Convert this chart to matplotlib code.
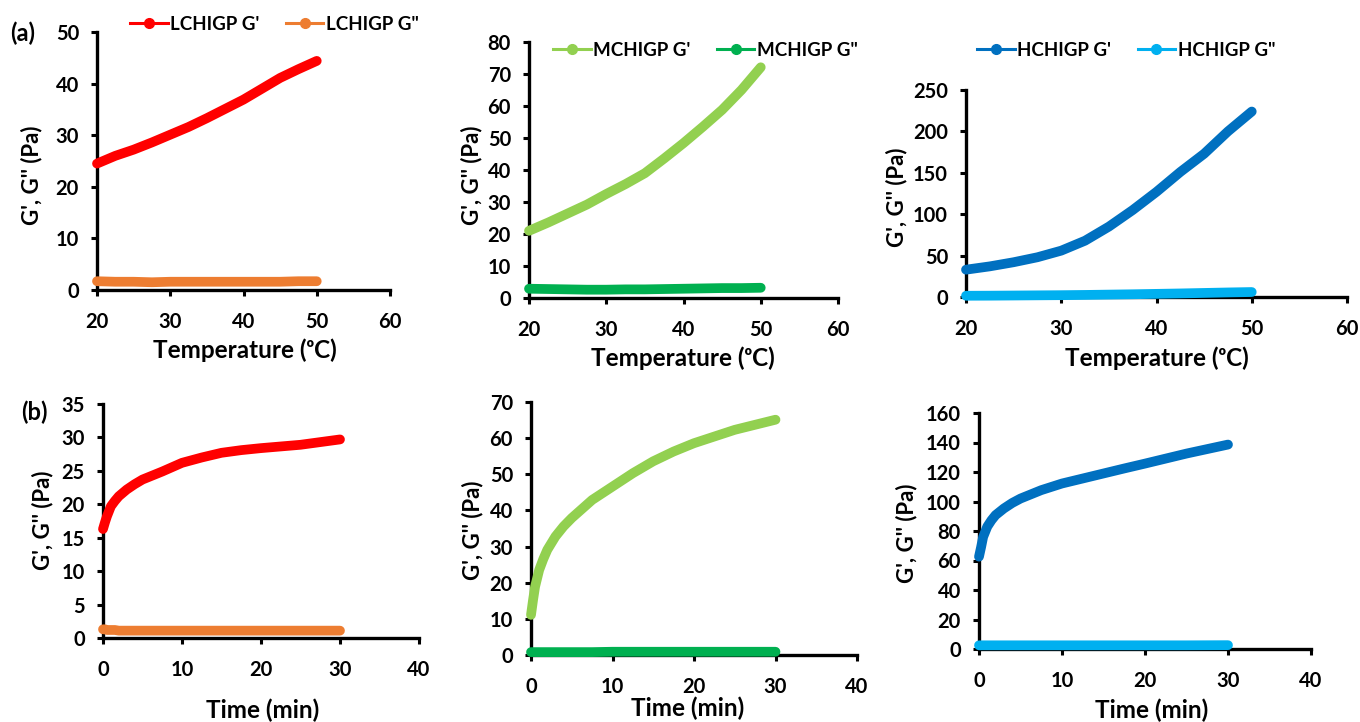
import numpy as np
import matplotlib.pyplot as plt
from matplotlib.lines import Line2D

plt.rcParams['font.family'] = ['Lato', 'DejaVu Sans']
plt.rcParams['font.weight'] = 'bold'

W, H = 1360, 722

# (a) temperature sweep
temp = [20, 22.5, 25, 27.5, 30, 32.5, 35, 37.5, 40, 42.5, 45, 47.5, 50]
lc_temp_g1 = [24.5, 26.0, 27.2, 28.6, 30.1, 31.6, 33.3, 35.1, 36.9, 39.0, 41.1, 42.8, 44.4]
lc_temp_g2 = [1.7, 1.6, 1.6, 1.5, 1.6, 1.6, 1.6, 1.6, 1.6, 1.6, 1.6, 1.7, 1.7]
mc_temp_g1 = [21.0, 23.6, 26.4, 29.2, 32.5, 35.6, 39.0, 43.6, 48.4, 53.5, 58.8, 65.0, 72.1]
mc_temp_g2 = [2.9, 2.8, 2.7, 2.6, 2.6, 2.7, 2.7, 2.8, 2.9, 3.0, 3.1, 3.1, 3.2]
hc_temp_g1 = [33, 37, 42, 48, 56, 68, 85, 105, 127, 151, 173, 200, 224]
hc_temp_g2 = [1.5, 1.6, 1.8, 2.0, 2.2, 2.5, 2.9, 3.3, 3.8, 4.3, 4.9, 5.5, 6.0]

# (b) time sweep
time_min = [0, 0.25, 0.5, 1, 1.5, 2, 3, 4, 5, 7.5, 10, 12.5, 15, 17.5, 20, 25, 30]
lc_time_g1 = [16.3, 17.3, 18.2, 19.7, 20.5, 21.2, 22.2, 23.0, 23.7, 24.9, 26.2, 27.0, 27.7, 28.1, 28.4, 28.9, 29.7]
lc_time_g2 = [1.3, 1.3, 1.2, 1.2, 1.2, 1.1, 1.1, 1.1, 1.1, 1.1, 1.1, 1.1, 1.1, 1.1, 1.1, 1.1, 1.1]
mc_time_g1 = [11.1, 15.2, 18.9, 23.5, 26.5, 29.1, 32.8, 35.6, 37.9, 42.9, 46.6, 50.3, 53.6, 56.3, 58.6, 62.3, 65.1]
mc_time_g2 = [0.8, 0.8, 0.8, 0.8, 0.8, 0.8, 0.8, 0.8, 0.8, 0.8, 0.9, 0.9, 0.9, 0.9, 0.9, 0.9, 0.9]
hc_time_g1 = [62.6, 69.0, 76.0, 83.0, 87.3, 90.8, 95.3, 99.0, 102.0, 107.7, 112.2, 115.6, 119.0, 122.4, 125.7, 132.5, 138.6]
hc_time_g2 = [2.5, 2.5, 2.5, 2.5, 2.5, 2.5, 2.5, 2.5, 2.5, 2.5, 2.5, 2.5, 2.5, 2.5, 2.5, 2.5, 2.6]

colors = {
    'LC': ('#ff0000', '#ed7d31'),
    'MC': ('#92d050', '#00b050'),
    'HC': ('#0070c0', '#00b0f0'),
}

fig = plt.figure(figsize=(W / 100, H / 100), dpi=100)


def px_axes(l, r, t, b):
    ax = fig.add_axes([l / W, 1 - b / H, (r - l) / W, (b - t) / H])
    ax._px = (l, r, t, b)
    return ax


def style(ax, xlim, xticks, ylim, yticks, xlabel, xl_pos, yl_pos):
    l, r, t, b = ax._px
    ax.set_xlim(*xlim)
    ax.set_ylim(*ylim)
    ax.set_xticks(xticks)
    ax.set_yticks(yticks)
    for s in ['top', 'right']:
        ax.spines[s].set_visible(False)
    for s in ['left', 'bottom']:
        ax.spines[s].set_linewidth(2.4)
        ax.spines[s].set_capstyle('projecting')
    ax.tick_params(direction='out', length=4, width=2.2, labelsize=14.5)
    ax.tick_params(axis='y', pad=9)
    ax.tick_params(axis='x', pad=12)
    for lab in ax.get_xticklabels() + ax.get_yticklabels():
        lab.set_fontweight('bold')
    ax.set_xlabel(xlabel, fontsize=17.5, fontweight='bold')
    ax.xaxis.set_label_coords((xl_pos[0] - l) / (r - l), (b - xl_pos[1]) / (b - t))
    ax.xaxis.label.set_va('center')
    ax.set_ylabel("G', G'' (Pa)", fontsize=16, fontweight='bold')
    ax.yaxis.set_label_coords((yl_pos[0] - l) / (r - l), (b - yl_pos[1]) / (b - t))
    ax.yaxis.label.set_va('center')


def draw(ax, x, g1, g2, key):
    c1, c2 = colors[key]
    for g, c in [(g2, c2), (g1, c1)]:
        ax.plot(x, g, color=c, lw=7, solid_capstyle='round', solid_joinstyle='round',
                clip_on=False, zorder=3)


def legend(key, name, x, y):
    c1, c2 = colors[key]
    handles = [Line2D([], [], color=c1, lw=2.2, marker='o', ms=7),
               Line2D([], [], color=c2, lw=2.2, marker='o', ms=7)]
    fig.legend(handles, [name + " G'", name + ' G"'], ncol=2, frameon=False,
               loc='center left', bbox_to_anchor=(x / W, 1 - y / H),
               prop={'size': 13.5, 'weight': 'bold'}, handlelength=2.0,
               handletextpad=0.15, columnspacing=1.4, borderpad=0, borderaxespad=0)


panels_a = [
    ('LC', 'LCHIGP', (97, 390, 32, 290), lc_temp_g1, lc_temp_g2, (0, 50), np.arange(0, 51, 10), (245, 350), (32, 175), (130, 24)),
    ('MC', 'MCHIGP', (529, 838, 42, 298), mc_temp_g1, mc_temp_g2, (0, 80), np.arange(0, 81, 10), (683, 358), (472, 175), (553, 50)),
    ('HC', 'HCHIGP', (966, 1347, 90, 297), hc_temp_g1, hc_temp_g2, (0, 250), np.arange(0, 251, 50), (1157, 358), (897, 197), (977, 50)),
]
for key, name, px, g1, g2, ylim, yt, xlp, ylp, lg in panels_a:
    ax = px_axes(*px)
    draw(ax, temp, g1, g2, key)
    style(ax, (20, 60), [20, 30, 40, 50, 60], ylim, yt, 'Temperature (ᵒC)', xlp, ylp)
    legend(key, name, *lg)

panels_b = [
    ('LC', (103, 419, 404, 638), lc_time_g1, lc_time_g2, (0, 35), np.arange(0, 36, 5), (263, 710), (43, 520)),
    ('MC', (531, 857, 402, 655), mc_time_g1, mc_time_g2, (0, 70), np.arange(0, 71, 10), (688, 708), (473, 530)),
    ('HC', (979, 1311, 413, 649), hc_time_g1, hc_time_g2, (0, 160), np.arange(0, 161, 20), (1152, 710), (907, 533)),
]
for key, px, g1, g2, ylim, yt, xlp, ylp in panels_b:
    ax = px_axes(*px)
    draw(ax, time_min, g1, g2, key)
    style(ax, (0, 40), [0, 10, 20, 30, 40], ylim, yt, 'Time (min)', xlp, ylp)

fig.text(10 / W, 1 - 33 / H, '(a)', fontsize=17, fontweight='bold', va='center')
fig.text(21 / W, 1 - 412 / H, '(b)', fontsize=17, fontweight='bold', va='center')

fig.savefig('out.png', dpi=100)
